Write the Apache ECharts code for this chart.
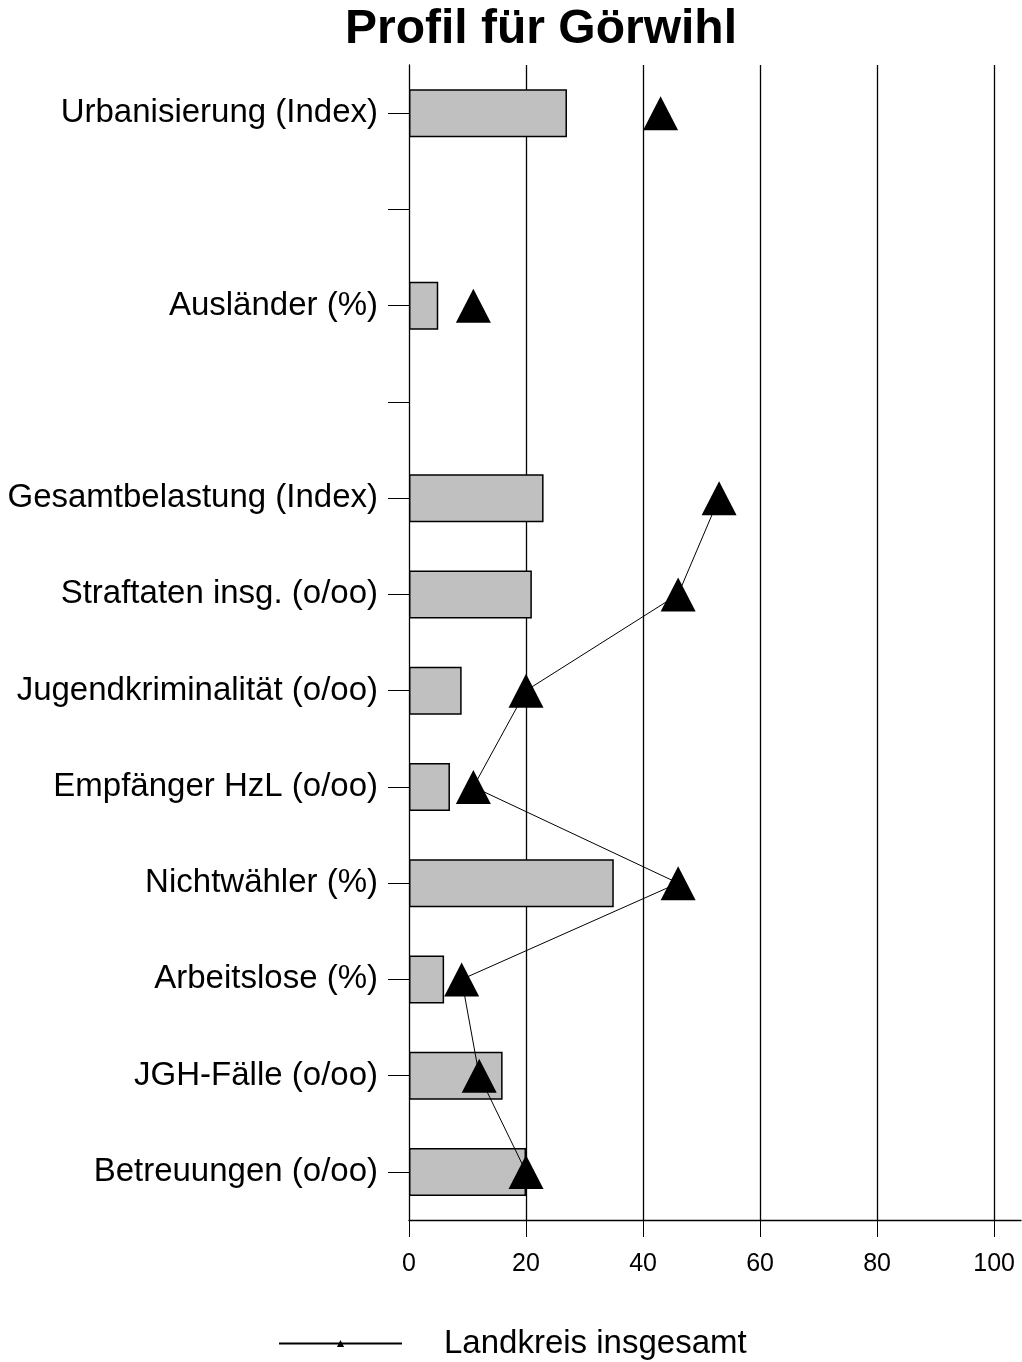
<!DOCTYPE html>
<html>
<head>
<meta charset="utf-8">
<script src="https://cdn.jsdelivr.net/npm/echarts@6/dist/echarts.min.js"></script>
<style>
  html, body { margin: 0; padding: 0; background: #ffffff; }
  #chart { width: 1022px; height: 1362px; }
</style>
</head>
<body>
<div id="chart"></div>
<script>
// Indicator names, top to bottom; empty strings leave a spacer row
const categories = [
  'Urbanisierung (Index)', '', 'Ausländer (%)', '',
  'Gesamtbelastung (Index)', 'Straftaten insg. (o/oo)', 'Jugendkriminalität (o/oo)',
  'Empfänger HzL (o/oo)', 'Nichtwähler (%)', 'Arbeitslose (%)',
  'JGH-Fälle (o/oo)', 'Betreuungen (o/oo)'
];
// Values for the municipality (bars)
const gemeindeValues = [27, '-', 5, '-', 23, 21, 9, 7, 35, 6, 16, 20];
// Values for the district as a whole (triangles)
const landkreisValues = [43, '-', 11, '-', 53, 46, 20, 11, 46, 9, 12, 20];
// Tick labels on the value axis
const xTicks = [0, 20, 40, 60, 80, 100];

const FONT = 'Liberation Sans, Arial, sans-serif';
const chart = echarts.init(document.getElementById('chart'), null, { renderer: 'canvas' });

chart.setOption({
  backgroundColor: '#ffffff',
  animation: false,
  title: {
    text: 'Profil für Görwihl',
    left: 536,
    textAlign: 'center',
    top: 1,
    textStyle: { fontFamily: FONT, fontSize: 48, fontWeight: 'bold', color: '#000' }
  },
  legend: {
    data: ['Landkreis insgesamt'],
    left: 273,
    top: 1322,
    itemWidth: 123,
    itemHeight: 9,
    textStyle: { fontFamily: FONT, fontSize: 33, color: '#000', padding: [0, 0, 0, 37] }
  },
  grid: { left: 409, right: 1, top: 65, bottom: 142, containLabel: false },
  xAxis: {
    type: 'value',
    min: 0,
    max: 104.6,
    interval: 20,
    axisLine: { show: true, lineStyle: { color: '#000', width: 1.3 } },
    axisTick: { show: true, length: 17, customValues: xTicks, lineStyle: { color: '#000', width: 1 } },
    axisLabel: {
      customValues: xTicks,
      margin: 32,
      fontFamily: FONT, fontSize: 25, color: '#000'
    },
    splitLine: {
      show: true,
      showMinLine: false,
      showMaxLine: true,
      lineStyle: { color: '#000', width: 1.3 }
    }
  },
  yAxis: {
    type: 'category',
    data: categories,
    inverse: true,
    axisLine: { show: true, onZero: false, lineStyle: { color: '#000', width: 1.3 } },
    axisTick: { show: true, alignWithLabel: true, length: 21, lineStyle: { color: '#000', width: 1 } },
    axisLabel: { margin: 31, fontFamily: FONT, fontSize: 33, color: '#000', padding: [4, 0, 0, 0] },
    splitLine: { show: false }
  },
  series: [
    {
      name: 'Gemeinde',
      type: 'bar',
      data: gemeindeValues,
      barWidth: 48,
      itemStyle: { color: '#c0c0c0', borderColor: '#000', borderWidth: 1.5 },
      z: 2
    },
    {
      name: 'Landkreis insgesamt',
      type: 'line',
      data: landkreisValues,
      connectNulls: false,
      symbol: 'triangle',
      symbolSize: [35, 34],
      lineStyle: { color: '#000', width: 1 },
      itemStyle: { color: '#000', borderWidth: 0 },
      z: 3
    }
  ]
});
</script>
</body>
</html>
